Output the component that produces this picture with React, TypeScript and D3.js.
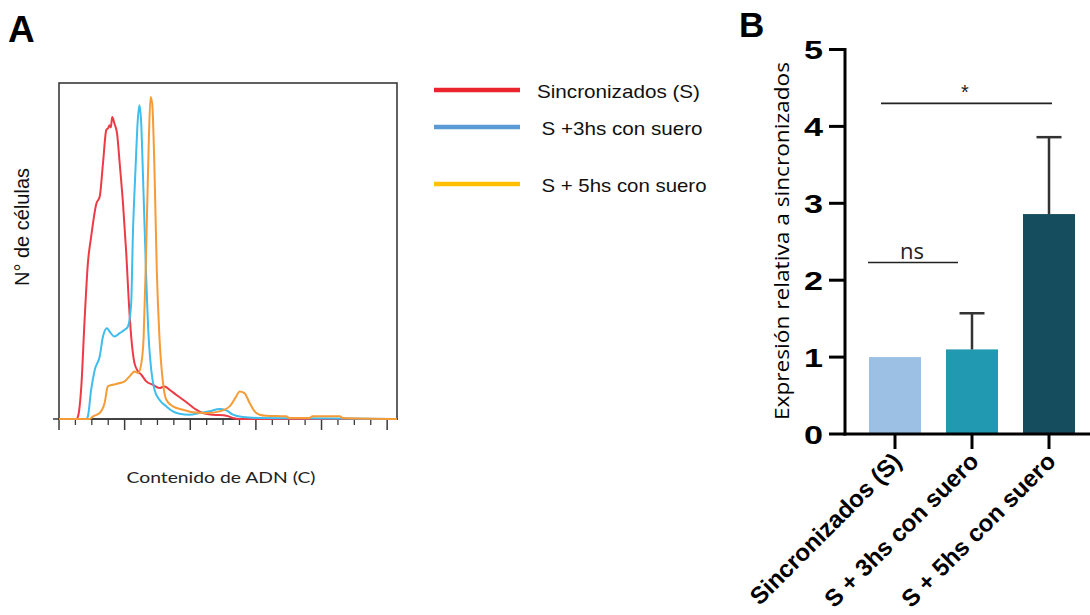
import React from "react";
import * as d3 from "d3";

// Panel A: DNA content histograms (channel, cell count)
const sincronizados: [number, number][] = [
  [0, 0], [53, 0], [58, 0.8], [68, 9.8], [78, 29.8], [88, 46.8], [98, 54.8], [114, 64.8],
  [124, 66.8], [134, 76.8], [144, 86.8], [150, 87.5], [154, 88.3], [158, 87.6], [162, 90.8],
  [169, 88.8], [177, 85.8], [185, 76.8], [195, 64.8], [205, 49.8], [213, 34.8], [220, 24.8],
  [230, 16.8], [241, 14.3], [251, 13.3], [266, 11.3], [286, 10.3], [306, 9.3], [322, 9.8],
  [337, 8.8], [357, 7.3], [378, 5.8], [398, 4.3], [418, 2.8], [438, 1.8], [469, 1.3],
  [510, 1.0], [530, 0.3], [550, 0], [1030, 0],
];
const mas3hs: [number, number][] = [
  [0, 0], [83, 0], [88, 0.8], [98, 8.8], [109, 14.8], [124, 18.8], [134, 24.8], [146, 27.3],
  [154, 26.3], [169, 24.8], [185, 25.8], [200, 26.8], [210, 27.8], [220, 34.8], [225, 54.8],
  [233, 74.8], [240, 89.8], [245, 94.3], [250, 89.8], [257, 69.8], [265, 44.8], [273, 24.8],
  [281, 14.8], [291, 8.8], [306, 5.8], [327, 3.8], [347, 2.3], [367, 1.6], [398, 1.3],
  [428, 1.8], [459, 2.3], [489, 3.0], [510, 2.6], [530, 1.3], [560, 0.6], [611, 0.3],
  [733, 0.2], [1030, 0],
];
const mas5hs: [number, number][] = [
  [0, 0], [93, 0], [104, 0.8], [124, 1.8], [139, 4.8], [149, 9.8], [164, 10.3], [185, 10.8],
  [200, 11.3], [215, 12.8], [230, 14.3], [241, 13.8], [251, 16.8], [258, 24.8], [264, 44.8],
  [269, 64.8], [274, 84.8], [279, 96.8], [284, 94.8], [291, 74.8], [298, 44.8], [306, 24.8],
  [317, 10.8], [327, 5.8], [347, 3.8], [378, 2.8], [408, 2.0], [449, 1.8], [489, 2.3],
  [520, 3.8], [540, 6.8], [550, 8.3], [565, 7.8], [581, 4.8], [596, 2.3], [611, 1.3],
  [631, 1.0], [692, 0.8], [702, 0.3], [763, 0.3], [773, 0.8], [855, 0.8], [865, 0.3],
  [1030, 0],
];
const histSeries = [
  { name: "Sincronizados (S)", data: sincronizados, line: "#ee3a44", key: "#e8242c" },
  { name: "S +3hs con suero", data: mas3hs, line: "#3fbdec", key: "#5b9bd5" },
  { name: "S + 5hs con suero", data: mas5hs, line: "#f59b37", key: "#ffc000" },
];
const majorTicksA = [0, 200, 400, 600, 800, 1000];
const minorTicksA = d3.range(0, 1030, 50).filter((v) => v % 200 !== 0);

// Panel B: relative expression (mean, upper SD)
const categoriesB = ["Sincronizados (S)", "S + 3hs con suero", "S + 5hs con suero"];
const meansB = [1.0, 1.1, 2.86];
const sdB = [0, 0.47, 1.0];
const barColorsB = ["#9bc0e4", "#2199b1", "#154d5f"];
const ticksB = [0, 1, 2, 3, 4, 5];

export default function App() {
  // Panel A scales
  const xA = d3.scaleLinear().domain([0, 1030]).range([59, 397]);
  const yA = d3.scaleLinear().domain([0, 101]).range([419, 83]);
  const lineA = d3
    .line<[number, number]>()
    .x((d) => xA(d[0]))
    .y((d) => yA(d[1]))
    .curve(d3.curveMonotoneX);

  // Panel B scales
  const xB = d3.scaleBand<string>().domain(categoriesB).range([856.5, 1087.5]).paddingInner(0.325).paddingOuter(0.1625);
  const yB = d3.scaleLinear().domain([0, 5]).range([434, 49.5]);
  const cx = (c: string) => (xB(c) as number) + xB.bandwidth() / 2;

  const legendY = [90, 127, 184];

  return (
    <svg width={1090} height={615} style={{ position: "absolute", left: 0, top: 0, background: "#fff" }}>
      {/* Panel letters */}
      <text x={8} y={42} fontFamily="Liberation Sans, Arial, sans-serif" fontWeight="bold" fontSize={37}>A</text>
      <text x={739} y={37} fontFamily="Liberation Sans, Arial, sans-serif" fontWeight="bold" fontSize={35}>B</text>

      {/* Panel A frame */}
      <rect x={59} y={83} width={338} height={336} fill="none" stroke="#3a3a3a" strokeWidth={1.6} />
      <line x1={53} x2={398} y1={419} y2={419} stroke="#3a3a3a" strokeWidth={1.6} />
      {majorTicksA.map((t) => (
        <line key={"M" + t} x1={xA(t)} x2={xA(t)} y1={419} y2={430} stroke="#3a3a3a" strokeWidth={1.5} />
      ))}
      {minorTicksA.map((t) => (
        <line key={"m" + t} x1={xA(t)} x2={xA(t)} y1={419} y2={425} stroke="#3a3a3a" strokeWidth={1.3} />
      ))}

      {/* Histograms */}
      {histSeries.map((s) => (
        <path key={s.name} d={lineA(s.data) as string} fill="none" stroke={s.line} strokeWidth={2} strokeLinejoin="round" />
      ))}

      {/* Panel A axis titles */}
      <text transform="translate(29,227) rotate(-90)" textAnchor="middle" fontFamily="Liberation Sans, Arial, sans-serif" fontSize={20} fill="#111">
        N° de células
      </text>
      <text x={221} y={483} textAnchor="middle" fontFamily="Lato, sans-serif" fontSize={16} fill="#222" textLength={189} lengthAdjust="spacingAndGlyphs">
        Contenido de ADN  (C)
      </text>

      {/* Legend */}
      {histSeries.map((s, i) => (
        <g key={"lg" + i}>
          <line x1={434} x2={520} y1={legendY[i]} y2={legendY[i]} stroke={s.key} strokeWidth={4.5} />
          <text x={i === 0 ? 537 : 541.5} y={legendY[i] + 8} fontFamily="Liberation Sans, Arial, sans-serif" fontSize={18.5} fill="#111"
            textLength={i === 0 ? 163 : i === 1 ? 161 : 165} lengthAdjust="spacingAndGlyphs">
            {s.name}
          </text>
        </g>
      ))}

      {/* Panel B bars */}
      {categoriesB.map((c, i) => (
        <rect key={c} x={xB(c)} y={yB(meansB[i])} width={xB.bandwidth()} height={yB(0) - yB(meansB[i])} fill={barColorsB[i]} />
      ))}
      {/* Error bars (upper) */}
      {categoriesB.map((c, i) =>
        sdB[i] > 0 ? (
          <g key={"e" + c} stroke="#333" strokeWidth={2.5}>
            <line x1={cx(c)} x2={cx(c)} y1={yB(meansB[i])} y2={yB(meansB[i] + sdB[i])} />
            <line x1={cx(c) - 12.5} x2={cx(c) + 12.5} y1={yB(meansB[i] + sdB[i])} y2={yB(meansB[i] + sdB[i])} />
          </g>
        ) : null
      )}

      {/* Panel B axes */}
      <line x1={845} x2={845} y1={yB(5) - 1.5} y2={yB(0) + 1.5} stroke="#000" strokeWidth={3} />
      <line x1={843.5} x2={1090} y1={yB(0)} y2={yB(0)} stroke="#000" strokeWidth={3} />
      {ticksB.map((t) => (
        <g key={"tb" + t}>
          <line x1={829} x2={845} y1={yB(t)} y2={yB(t)} stroke="#000" strokeWidth={3} />
          <text x={823} y={yB(t) + 9.5} textAnchor="end" fontFamily="Liberation Sans, Arial, sans-serif" fontWeight="bold" fontSize={26}
            textLength={19} lengthAdjust="spacingAndGlyphs">
            {t}
          </text>
        </g>
      ))}
      {categoriesB.map((c) => (
        <g key={"xt" + c}>
          <line x1={cx(c)} x2={cx(c)} y1={yB(0)} y2={449} stroke="#000" strokeWidth={3} />
          <text transform={`translate(${cx(c) + 8},${463}) rotate(-45)`} textAnchor="end" fontFamily="Liberation Sans, Arial, sans-serif"
            fontWeight="bold" fontSize={24} fill="#000">
            {c}
          </text>
        </g>
      ))}
      <text transform="translate(789,241) rotate(-90)" textAnchor="middle" fontFamily="Open Sans, sans-serif" fontSize={19.5} fill="#000"
        textLength={358} lengthAdjust="spacingAndGlyphs">
        Expresión relativa a sincronizados
      </text>

      {/* Significance annotations */}
      <line x1={881} x2={1052} y1={yB(4.3)} y2={yB(4.3)} stroke="#222" strokeWidth={1.6} />
      <text x={965} y={yB(4.3) - 4} textAnchor="middle" fontFamily="Liberation Sans, Arial, sans-serif" fontSize={20} fill="#222">*</text>
      <line x1={868} x2={958} y1={yB(2.23)} y2={yB(2.23)} stroke="#222" strokeWidth={1.6} />
      <text x={912} y={yB(2.23) - 4} textAnchor="middle" fontFamily="Open Sans, sans-serif" fontSize={22} fill="#222">ns</text>
    </svg>
  );
}
